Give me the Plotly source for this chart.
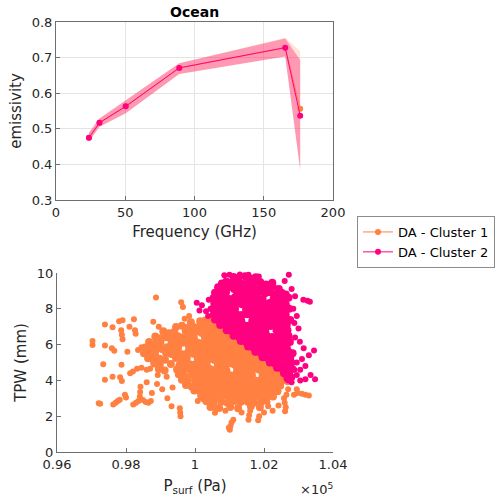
import plotly.graph_objects as go

# ---------------- top panel data ----------------
freq_ghz = [23.8, 31.4, 50.3, 89.0, 165.5, 176.3]
emis_c1 = [0.475, 0.517, 0.563, 0.671, 0.728, 0.556]
emis_c1_lo = [0.464, 0.506, 0.544, 0.654, 0.703, 0.390]
emis_c1_hi = [0.489, 0.529, 0.581, 0.684, 0.756, 0.717]
emis_c2 = [0.475, 0.517, 0.563, 0.671, 0.728, 0.537]
emis_c2_lo = [0.464, 0.506, 0.544, 0.654, 0.703, 0.384]
emis_c2_hi = [0.489, 0.529, 0.581, 0.684, 0.754, 0.693]

series_names = ["DA - Cluster 1", "DA - Cluster 2"]
x_ticks_top = [0, 50, 100, 150, 200]
y_ticks_top = [0.3, 0.4, 0.5, 0.6, 0.7, 0.8]

# ---------------- bottom panel data (hPa, mm) ----------------
c1_sparse = [
    (970.3, 6.2), (970.3, 5.98), (972.1, 2.72), (972.5, 2.7), (973.4, 4.9), (973.9, 7.12),
    (973.9, 5.95), (973.9, 4.03), (976.1, 6.97), (975.9, 5.8), (976.6, 5.65), (976.1, 4.2),
    (976.3, 2.65), (977.0, 2.75), (977.6, 2.85), (978.2, 2.92), (978.0, 7.3), (979.0, 7.36),
    (978.6, 6.8), (978.8, 6.55), (979.0, 6.3), (980.4, 5.6), (978.7, 4.88), (978.3, 4.18),
    (978.8, 3.97), (979.7, 3.2), (980.0, 3.05), (981.0, 7.0), (982.3, 7.42), (982.6, 6.8),
    (982.8, 6.6), (981.2, 4.4), (982.0, 4.5), (982.1, 2.65), (982.9, 2.75), (983.6, 2.85),
    (984.0, 3.1), (984.1, 3.35), (984.2, 3.65), (984.9, 2.9), (985.7, 2.8), (986.5, 2.75),
    (987.2, 2.85), (983.5, 5.7), (984.5, 5.85), (983.2, 4.65), (984.5, 4.7), (986.0, 4.6),
    (987.0, 4.65), (988.7, 8.63), (987.9, 7.27), (989.5, 7.0), (996.0, 8.36), (996.5, 8.1),
    (998.3, 7.6), (997.0, 7.45), (993.2, 2.56), (995.7, 2.2), (995.8, 2.0), (995.6, 2.45),
    (992.0, 3.0), (990.5, 3.5), (989.0, 3.8), (991.8, 4.2), (993.5, 3.6), (987.5, 3.3),
    (986.0, 3.9), (989.2, 4.3), (1010.1, 1.24), (1010.3, 1.45), (1010.6, 1.65), (1011.1, 1.8),
    (1009.8, 1.35), (1005.8, 2.19), (1006.0, 2.4), (1002.4, 2.94), (1015.5, 1.8), (1015.7, 2.05),
    (1016.0, 2.3), (1018.3, 1.77), (1018.6, 2.0), (1021.2, 2.56), (1021.0, 2.8), (1026.1, 2.28),
    (1026.3, 2.5), (1026.0, 2.75), (1029.5, 3.5), (1028.7, 3.2), (1029.8, 3.3), (1031.0, 3.25),
    (1032.0, 3.2), (1033.0, 3.15), (1026.5, 3.2), (1027.0, 3.5), (1026.8, 3.9), (1025.8, 3.0),
    (1024.2, 2.6), (1022.5, 2.3), (1020.0, 2.2), (1013.5, 2.2), (1008.8, 2.3), (1000.8, 2.85),
]

c1_core = [
    (998.8, 7.25), (1001.5, 7.3), (1003.0, 7.35), (1004.4, 7.4),
    (994.5, 6.98), (996.2, 7.06), (997.6, 6.93), (999.3, 7.02), (1000.8, 6.95), (1002.4, 7.06),
    (1003.9, 6.98), (1005.4, 7.02), (1006.9, 6.99),
    (990.8, 6.75), (992.5, 6.64), (994.0, 6.71), (997.3, 6.76), (998.9, 6.66),
    (1000.4, 6.72), (1002.0, 6.65), (1003.6, 6.74), (1005.1, 6.69), (1006.7, 6.72), (1008.2, 6.68),
    (1009.5, 6.7),
    (988.5, 6.45), (990.1, 6.36), (991.7, 6.41), (993.4, 6.34), (995.0, 6.46), (996.5, 6.39),
    (998.1, 6.41), (999.7, 6.35), (1002.9, 6.39), (1004.4, 6.44), (1006.0, 6.36),
    (1007.6, 6.42), (1009.1, 6.39), (1010.6, 6.41), (1011.6, 6.4),
    (986.7, 6.14), (988.4, 6.06), (990.0, 6.11), (993.2, 6.15), (994.8, 6.06),
    (996.3, 6.11), (997.9, 6.05), (999.5, 6.14), (1001.1, 6.09), (1002.7, 6.11), (1004.2, 6.06),
    (1005.8, 6.14), (1007.4, 6.09), (1008.9, 6.11), (1010.5, 6.06), (1012.1, 6.12), (1013.6, 6.1),
    (985.6, 5.84), (987.2, 5.76), (988.8, 5.81), (990.4, 5.75), (992.0, 5.85), (993.6, 5.79),
    (995.1, 5.81), (998.3, 5.84), (999.9, 5.77), (1001.5, 5.81), (1003.0, 5.76),
    (1004.6, 5.84), (1006.2, 5.79), (1007.8, 5.81), (1009.4, 5.76), (1010.9, 5.82), (1012.5, 5.79),
    (1014.1, 5.81), (1015.7, 5.8),
    (985.2, 5.52), (986.8, 5.46), (988.4, 5.51), (991.6, 5.55), (993.1, 5.47),
    (994.7, 5.51), (996.3, 5.46), (997.9, 5.54), (999.5, 5.49), (1001.0, 5.51), (1002.6, 5.46),
    (1004.2, 5.54), (1005.8, 5.49), (1007.4, 5.51), (1008.9, 5.46), (1010.5, 5.54), (1012.1, 5.49),
    (1013.7, 5.51), (1015.3, 5.46), (1016.8, 5.52), (1017.9, 5.5),
    (986.4, 5.24), (988.0, 5.16), (989.7, 5.21), (991.3, 5.15), (994.5, 5.25), (996.0, 5.19),
    (997.6, 5.21), (1000.8, 5.24), (1002.4, 5.19), (1003.9, 5.21), (1005.5, 5.16),
    (1007.1, 5.24), (1008.7, 5.19), (1010.3, 5.21), (1011.8, 5.16), (1013.4, 5.24), (1015.0, 5.19),
    (1016.6, 5.21), (1018.2, 5.16), (1019.8, 5.2),
    (988.2, 4.94), (989.8, 4.86), (993.0, 4.91), (995.5, 4.85), (997.1, 4.95), (998.7, 4.89),
    (1000.3, 4.91), (1001.9, 4.86), (1003.4, 4.94), (1006.6, 4.91), (1008.2, 4.86),
    (1009.8, 4.94), (1011.4, 4.89), (1012.9, 4.91), (1014.5, 4.86), (1016.1, 4.94), (1017.7, 4.89),
    (1019.3, 4.91), (1020.9, 4.86), (1022.0, 4.9),
    (989.5, 4.64), (991.2, 4.56), (994.8, 4.61), (996.4, 4.55), (998.0, 4.65), (999.6, 4.59),
    (1001.2, 4.61), (1002.7, 4.56), (1004.3, 4.64), (1005.9, 4.59), (1007.5, 4.61), (1009.1, 4.56),
    (1012.2, 4.59), (1013.8, 4.61), (1015.4, 4.56), (1017.0, 4.64), (1018.6, 4.59),
    (1020.1, 4.61), (1021.7, 4.56), (1023.3, 4.64), (1024.2, 4.6),
    (995.3, 4.34), (996.9, 4.26), (999.0, 4.31), (1000.6, 4.25), (1002.2, 4.35), (1003.8, 4.29),
    (1005.4, 4.31), (1007.0, 4.26), (1008.5, 4.34), (1010.1, 4.29), (1011.7, 4.31), (1013.3, 4.26),
    (1014.9, 4.34), (1016.5, 4.29), (1019.6, 4.26), (1021.2, 4.34), (1022.8, 4.29),
    (1024.4, 4.31), (1025.8, 4.3),
    (996.2, 4.04), (997.8, 3.96), (1000.0, 4.01), (1001.6, 3.95), (1003.2, 4.05), (1004.8, 3.99),
    (1006.3, 4.01), (1007.9, 3.96), (1009.5, 4.04), (1011.1, 3.99), (1012.7, 4.01), (1014.3, 3.96),
    (1015.8, 4.04), (1017.4, 3.99), (1019.0, 4.01), (1020.6, 3.96), (1022.2, 4.04), (1023.8, 3.99),
    (1025.3, 4.0),
    (997.4, 3.74), (999.0, 3.66), (1000.6, 3.71), (1002.5, 3.65), (1004.1, 3.75), (1005.7, 3.69),
    (1007.3, 3.71), (1008.9, 3.66), (1010.4, 3.74), (1012.0, 3.69), (1013.6, 3.71), (1015.2, 3.66),
    (1016.8, 3.74), (1018.4, 3.69), (1019.9, 3.71), (1021.5, 3.66), (1023.1, 3.74), (1024.7, 3.7),
    (999.8, 3.44), (1001.6, 3.36), (1003.2, 3.41), (1004.8, 3.35), (1006.4, 3.45), (1008.0, 3.39),
    (1009.6, 3.41), (1011.2, 3.36), (1012.8, 3.44), (1014.4, 3.39), (1016.0, 3.41), (1017.6, 3.36),
    (1019.2, 3.44), (1020.7, 3.39), (1022.3, 3.41), (1023.9, 3.4),
    (1001.8, 3.14), (1003.7, 3.06), (1005.5, 3.11), (1007.2, 3.05), (1008.8, 3.15), (1010.6, 3.09),
    (1012.2, 3.11), (1013.9, 3.06), (1015.7, 3.14), (1017.3, 3.09), (1019.0, 3.11), (1020.8, 3.06),
    (1022.6, 3.1),
    (1003.3, 2.84), (1005.4, 2.76), (1007.6, 2.81), (1009.4, 2.75), (1011.5, 2.85), (1013.2, 2.79),
    (1015.3, 2.81), (1017.1, 2.76), (1019.2, 2.8),
    (1004.5, 2.52), (1007.0, 2.46), (1010.2, 2.51), (1012.5, 2.45), (1016.2, 2.55), (1018.8, 2.5),
]

c2_sparse = [
    (1000.5, 8.34), (1001.3, 7.9), (1003.2, 7.87), (1002.0, 8.2), (1004.0, 8.5), (1004.5, 8.0),
    (1003.8, 7.6), (1008.5, 9.88), (1010.0, 9.9), (1013.0, 9.92), (1015.5, 9.9), (1018.5, 9.8),
    (1027.2, 9.9), (1026.0, 9.55), (1028.0, 9.1), (1029.0, 8.7), (1031.4, 8.5), (1033.3, 8.4),
    (1032.6, 8.45), (1028.5, 8.0), (1029.5, 7.6), (1028.8, 7.2), (1030.0, 6.9), (1030.4, 6.16),
    (1029.0, 6.4), (1031.5, 5.8), (1034.5, 5.67), (1033.0, 5.4), (1031.0, 5.2), (1029.5, 5.0),
    (1032.0, 4.8), (1030.5, 4.6), (1034.8, 4.07), (1032.0, 4.07), (1033.5, 4.3), (1029.5, 4.3),
    (1028.8, 4.6), (1028.0, 3.9), (1027.0, 4.0), (1030.5, 4.0),
]

c2_core = [
    (1011.2, 9.78), (1012.6, 9.7), (1014.5, 9.82), (1016.3, 9.68), (1017.6, 9.76),
    (1007.8, 9.42), (1009.1, 9.52), (1010.6, 9.45), (1012.2, 9.5), (1013.8, 9.38), (1015.4, 9.5),
    (1017.0, 9.44), (1018.9, 9.5), (1020.6, 9.36), (1022.4, 9.46),
    (1006.7, 9.2), (1008.1, 9.12), (1009.7, 9.22), (1011.3, 9.1), (1012.9, 9.24), (1014.5, 9.14),
    (1016.1, 9.22), (1017.7, 9.1), (1019.3, 9.2), (1020.9, 9.14), (1022.5, 9.24), (1024.3, 9.1),
    (1005.8, 8.9), (1007.4, 8.82), (1009.0, 8.92), (1012.2, 8.94), (1013.8, 8.84),
    (1015.4, 8.92), (1017.0, 8.83), (1018.6, 8.95), (1020.2, 8.86), (1021.8, 8.92), (1023.4, 8.83),
    (1025.1, 8.9), (1026.3, 8.8),
    (1005.4, 8.6), (1006.8, 8.53), (1008.4, 8.62), (1010.0, 8.55), (1011.6, 8.64), (1013.2, 8.54),
    (1014.8, 8.62), (1016.4, 8.53), (1018.0, 8.6), (1019.6, 8.54), (1022.8, 8.56),
    (1024.4, 8.64), (1026.0, 8.54), (1027.1, 8.62),
    (1005.6, 8.3), (1007.2, 8.23), (1008.8, 8.32), (1010.4, 8.22), (1012.0, 8.33), (1013.6, 8.26),
    (1015.2, 8.31), (1016.8, 8.23), (1018.4, 8.32), (1020.0, 8.25), (1021.6, 8.32), (1023.2, 8.23),
    (1024.8, 8.3), (1026.3, 8.25),
    (1005.2, 7.99), (1006.8, 7.93), (1008.4, 8.01), (1010.0, 7.92), (1011.6, 8.02), (1014.8, 7.96),
    (1016.4, 7.93), (1018.0, 8.01), (1019.6, 7.94), (1021.2, 7.99), (1022.8, 7.93),
    (1024.4, 8.0), (1026.0, 7.94), (1027.3, 8.0),
    (1005.5, 7.7), (1007.1, 7.62), (1008.7, 7.71), (1010.3, 7.63), (1011.9, 7.72), (1013.5, 7.65),
    (1015.1, 7.7), (1016.7, 7.62), (1018.3, 7.71), (1019.9, 7.64), (1021.5, 7.7), (1023.1, 7.62),
    (1024.7, 7.72), (1026.3, 7.65),
    (1005.8, 7.4), (1007.0, 7.33), (1008.6, 7.41), (1010.2, 7.32), (1011.8, 7.42), (1013.4, 7.34),
    (1016.6, 7.33), (1018.2, 7.41), (1019.8, 7.34), (1021.4, 7.4), (1023.0, 7.32),
    (1024.6, 7.42), (1026.2, 7.34), (1027.6, 7.38),
    (1007.3, 7.1), (1009.0, 7.03), (1010.6, 7.11), (1012.2, 7.02), (1013.8, 7.12), (1015.4, 7.05),
    (1017.0, 7.1), (1018.6, 7.03), (1020.2, 7.11), (1021.8, 7.04), (1023.4, 7.1), (1025.0, 7.02),
    (1026.6, 7.1),
    (1009.2, 6.8), (1010.8, 6.73), (1012.4, 6.81), (1014.0, 6.72), (1015.6, 6.82), (1017.2, 6.75),
    (1018.8, 6.8), (1020.4, 6.72), (1023.6, 6.81), (1025.2, 6.74), (1026.8, 6.8),
    (1011.2, 6.5), (1012.8, 6.43), (1014.4, 6.51), (1016.0, 6.42), (1017.6, 6.52), (1019.2, 6.45),
    (1020.8, 6.5), (1022.4, 6.42), (1024.0, 6.51), (1025.6, 6.44), (1027.1, 6.5),
    (1013.3, 6.2), (1014.9, 6.13), (1016.5, 6.21), (1018.1, 6.12), (1019.7, 6.22), (1021.3, 6.15),
    (1022.9, 6.2), (1024.5, 6.12), (1026.1, 6.21), (1027.5, 6.15),
    (1015.4, 5.9), (1017.0, 5.83), (1018.6, 5.91), (1020.2, 5.82), (1021.8, 5.92), (1023.4, 5.85),
    (1025.0, 5.9), (1026.6, 5.82),
    (1017.5, 5.6), (1019.1, 5.53), (1020.7, 5.61), (1022.3, 5.52), (1023.9, 5.62), (1025.5, 5.55),
    (1027.1, 5.6), (1028.3, 5.52),
    (1019.6, 5.3), (1021.2, 5.23), (1022.8, 5.31), (1024.4, 5.22), (1026.0, 5.32), (1027.6, 5.25),
    (1021.7, 5.0), (1023.3, 4.93), (1024.9, 5.01), (1026.5, 4.92), (1027.9, 5.0),
    (1023.8, 4.7), (1025.4, 4.63), (1027.0, 4.71), (1028.2, 4.64),
    (1025.8, 4.4), (1027.3, 4.33), (1026.8, 4.12), (1027.9, 4.18),
]

x_tickvals_bottom = [96000, 98000, 100000, 102000, 104000]
x_ticktext_bottom = ["0.96", "0.98", "1", "1.02", "1.04"]
y_ticks_bottom = [0, 2, 4, 6, 8, 10]

ORANGE = "#FF8040"
PINK = "#FF0080"
FONT = "DejaVu Sans"
TICK_COLOR = "#262626"
AXIS_COLOR = "#6e6e6e"

# body margin is removed by a small post script, so the figure fills the window
W, H = 498, 503


def px_x(p):
    return p / W


def px_y(p):
    return 1 - p / H


fig = go.Figure()

# bands (top)
fig.add_trace(go.Scatter(
    x=freq_ghz + freq_ghz[::-1], y=emis_c1_lo + emis_c1_hi[::-1],
    fill="toself", fillcolor="rgba(255,128,64,0.22)", line=dict(width=0),
    mode="lines", showlegend=False, hoverinfo="skip", xaxis="x", yaxis="y"))
fig.add_trace(go.Scatter(
    x=freq_ghz + freq_ghz[::-1], y=emis_c2_lo + emis_c2_hi[::-1],
    fill="toself", fillcolor="rgba(255,0,110,0.33)", line=dict(width=0),
    mode="lines", showlegend=False, hoverinfo="skip", xaxis="x", yaxis="y"))

# mean lines (top) - these carry the legend
fig.add_trace(go.Scatter(
    x=freq_ghz, y=emis_c1, mode="lines+markers", name=series_names[0],
    line=dict(color=ORANGE, width=1), marker=dict(color=ORANGE, size=6),
    xaxis="x", yaxis="y"))
fig.add_trace(go.Scatter(
    x=freq_ghz, y=emis_c2, mode="lines+markers", name=series_names[1],
    line=dict(color=PINK, width=1), marker=dict(color=PINK, size=6),
    xaxis="x", yaxis="y"))

# scatter (bottom): sparse points drawn at the nominal marker size,
# core points slightly larger to represent the densely overlapping cloud
SPARSE_SIZE, CORE_SIZE = 6, 8
for sparse, core, color in ((c1_sparse, c1_core, ORANGE), (c2_sparse, c2_core, PINK)):
    pts = sparse + core
    psurf = [p[0] * 100 for p in pts]
    tpw = [p[1] for p in pts]
    sizes = [SPARSE_SIZE] * len(sparse) + [CORE_SIZE] * len(core)
    fig.add_trace(go.Scatter(
        x=psurf, y=tpw, mode="markers", showlegend=False, cliponaxis=False,
        marker=dict(color=color, size=sizes, opacity=1, line=dict(width=0)),
        xaxis="x2", yaxis="y2"))

common_axis = dict(
    showline=True, linecolor=AXIS_COLOR, linewidth=1,
    ticks="inside", ticklen=4, tickcolor=AXIS_COLOR,
    tickfont=dict(family=FONT, size=13, color=TICK_COLOR),
    zeroline=False, automargin=False,
)

fig.update_layout(
    width=W, height=H,
    margin=dict(l=0, r=0, t=0, b=0, autoexpand=False),
    paper_bgcolor="white", plot_bgcolor="white",
    font=dict(family=FONT, color=TICK_COLOR),
    xaxis=dict(
        domain=[px_x(56), px_x(333)], anchor="y", range=[0, 200],
        tickvals=x_ticks_top, showgrid=True, gridcolor="#e4e4e4", mirror=True,
        title=dict(text="Frequency (GHz)", font=dict(family=FONT, size=15, color=TICK_COLOR), standoff=7),
        **common_axis),
    yaxis=dict(
        domain=[px_y(200), px_y(22)], anchor="x", range=[0.3, 0.8],
        tickvals=y_ticks_top, tickformat=".1f", showgrid=True, gridcolor="#e4e4e4", mirror=True,
        title=dict(text="emissivity", font=dict(family=FONT, size=15, color=TICK_COLOR), standoff=6),
        **common_axis),
    xaxis2=dict(
        domain=[px_x(57), px_x(333)], anchor="y2", range=[96000, 104000],
        tickvals=x_tickvals_bottom, ticktext=x_ticktext_bottom, showgrid=False,
        title=dict(text="P<sub>surf</sub> (Pa)", font=dict(family=FONT, size=15, color=TICK_COLOR), standoff=9),
        **common_axis),
    yaxis2=dict(
        domain=[px_y(452), px_y(273)], anchor="x2", range=[0, 10],
        tickvals=y_ticks_bottom, showgrid=False,
        title=dict(text="TPW (mm)", font=dict(family=FONT, size=15, color=TICK_COLOR), standoff=6),
        **common_axis),
    legend=dict(
        x=px_x(357), y=px_y(216), xanchor="left", yanchor="top",
        bordercolor="#8c8c8c", borderwidth=1, bgcolor="white",
        font=dict(family=FONT, size=13, color="black"),
        itemwidth=30, tracegroupgap=0,
    ),
    annotations=[
        dict(text="<b>Ocean</b>", x=px_x(194.5), y=px_y(12), xref="paper", yref="paper",
             showarrow=False, font=dict(family=FONT, size=14, color="black"),
             xanchor="center", yanchor="middle"),
        dict(text="×10<sup>5</sup>", x=px_x(335), y=px_y(489), xref="paper", yref="paper",
             showarrow=False, font=dict(family=FONT, size=13, color=TICK_COLOR),
             xanchor="right", yanchor="middle"),
    ],
)

fig.write_html(
    "out.html",
    config={"displayModeBar": False},
    post_script="document.body.style.margin='0px';document.body.style.padding='0px';",
)
